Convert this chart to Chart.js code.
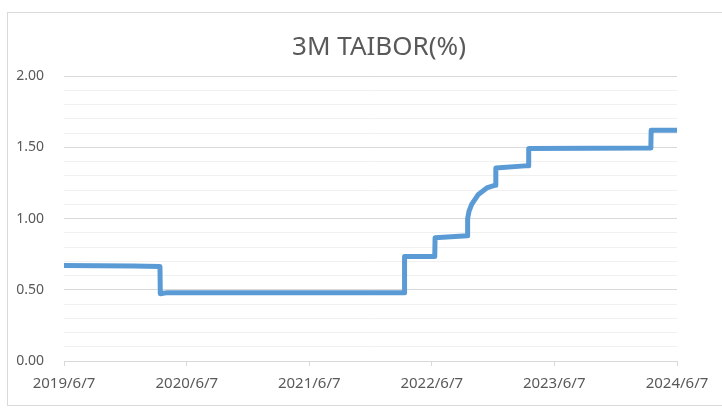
<!DOCTYPE html>
<html>
<head>
<meta charset="utf-8">
<script src="https://cdn.jsdelivr.net/npm/chart.js@4"></script>
<style>
  html, body { margin: 0; padding: 0; background: #fff; overflow: hidden; width: 722px; height: 412px; }
  #frame { position: absolute; left: 7px; top: 12px; width: 760px; height: 392px; border: 1px solid #d9d9d9; }
  #c { position: absolute; left: 7px; top: 0; }
</style>
</head>
<body>
<div id="frame"></div>
<canvas id="c" width="744" height="412"></canvas>
<script>
// 3M TAIBOR (%)
const dates = [
  '2019/6/7', '2019/12/31', '2020/3/19', '2020/3/20', '2020/4/10',
  '2022/3/17', '2022/3/18', '2022/6/16', '2022/6/17', '2022/9/21',
  '2022/9/22', '2022/9/26', '2022/10/4', '2022/10/24', '2022/11/18',
  '2022/12/14', '2022/12/15', '2023/3/22', '2023/3/23', '2024/3/21',
  '2024/3/22', '2024/6/7'
];
const rates = [
  0.670, 0.667, 0.663, 0.472, 0.480,
  0.480, 0.733, 0.733, 0.865, 0.880,
  1.000, 1.050, 1.100, 1.170, 1.215,
  1.235, 1.355, 1.372, 1.493, 1.495,
  1.620, 1.620
];
const xTickLabels = ['2019/6/7', '2020/6/7', '2021/6/7', '2022/6/7', '2023/6/7', '2024/6/7'];
const yTickLabels = ['0.00', '0.50', '1.00', '1.50', '2.00'];

// jours depuis le premier repère
function toDay(s) {
  const [y, m, d] = s.split('/').map(Number);
  const [y0, m0, d0] = xTickLabels[0].split('/').map(Number);
  return (Date.UTC(y, m - 1, d) - Date.UTC(y0, m0 - 1, d0)) / 86400000;
}

function isMajor(v) {
  return yTickLabels.some(l => Math.abs(parseFloat(l) - v) < 1e-6);
}

const ctx = document.getElementById('c').getContext('2d');
new Chart(ctx, {
  type: 'line',
  data: {
    datasets: [{
      label: '3M TAIBOR(%)',
      data: dates.map((d, i) => ({ x: toDay(d), y: rates[i] })),
      borderColor: '#5B9BD5',
      borderWidth: 5,
      pointRadius: 0,
      tension: 0,
      borderJoinStyle: 'round',
      borderCapStyle: 'butt',
      fill: false
    }]
  },
  options: {
    responsive: false,
    animation: false,
    layout: { padding: 0 },
    plugins: {
      legend: { display: false },
      tooltip: { enabled: false },
      title: {
        display: true,
        text: '3M TAIBOR(%)',
        color: '#595959',
        font: { family: 'Noto Sans', size: 26, weight: 'normal' },
        padding: { top: 32, bottom: 13 }
      }
    },
    scales: {
      x: {
        type: 'linear',
        min: toDay(xTickLabels[0]),
        max: toDay(xTickLabels[xTickLabels.length - 1]),
        afterBuildTicks: scale => {
          scale.ticks = xTickLabels.map(l => ({ value: toDay(l) }));
        },
        afterFit: scale => { scale.height = 51; },
        grid: { drawOnChartArea: false, drawTicks: true, tickLength: 5, color: '#d9d9d9' },
        border: { display: true, color: '#d9d9d9' },
        ticks: {
          autoSkip: false,
          maxRotation: 0,
          padding: 9,
          color: '#595959',
          font: { family: 'Noto Sans', size: 15 },
          callback: (v, i) => xTickLabels[i]
        }
      },
      y: {
        min: 0,
        max: 2,
        afterFit: scale => { scale.width = 57; },
        border: { display: false },
        grid: {
          drawTicks: false,
          color: c => (c.tick && isMajor(c.tick.value)) ? '#d9d9d9' : '#f0f0f0'
        },
        ticks: {
          stepSize: 0.1,
          autoSkip: false,
          padding: 20,
          color: '#595959',
          font: { family: 'Noto Sans', size: 14 },
          callback: v => isMajor(v) ? v.toFixed(2) : ''
        }
      },
      // axe vide à droite, garde la place comme dans Excel
      yRight: {
        position: 'right',
        min: 0,
        max: 2,
        afterFit: scale => { scale.width = 74; },
        border: { display: false },
        grid: { drawOnChartArea: false, drawTicks: false },
        ticks: { display: false }
      }
    }
  }
});
</script>
</body>
</html>
